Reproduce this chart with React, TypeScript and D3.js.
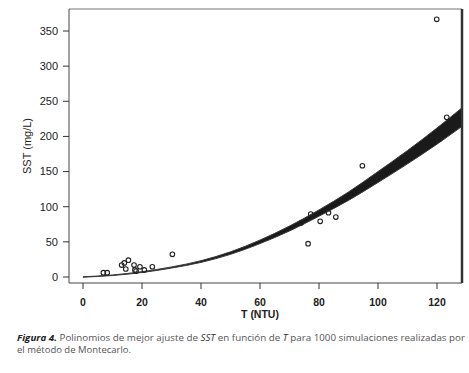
import React from "react";
import * as d3 from "d3";

// Observed data (T in NTU, SST in mg/L)
const obsT = [6.9, 8.2, 13.1, 14.0, 15.4, 14.5, 17.3, 17.6, 19.3, 18.0, 20.8, 23.5, 30.3, 73.9, 76.3, 77.2, 80.4, 83.2, 85.7, 94.7, 119.9, 120.7, 123.3];
const obsSST = [6.1, 6.1, 17, 20, 24, 11.4, 17, 10, 14.6, 8.5, 10, 14.6, 32.3, 76.8, 47.4, 89.6, 79.2, 91.5, 85.3, 158.3, 366.6, 196, 227.2];

// Envelope of the 1000 Monte Carlo polynomial fits
const bandT = [0, 10, 20, 30, 40, 50, 60, 70, 80, 90, 100, 110, 120, 130];
const bandLower = [-0.3, 2.1, 6.4, 12.7, 20.8, 32.2, 47.5, 65.5, 86.5, 109, 134.5, 161, 189, 219];
const bandUpper = [0.3, 2.9, 7.6, 14.3, 23.2, 35.8, 52.5, 72.5, 95.5, 121, 150, 180, 212, 246];

const xTicks = [0, 20, 40, 60, 80, 100, 120];
const yTicks = [0, 50, 100, 150, 200, 250, 300, 350];

const W = 469;
const H = 373;
const box = { left: 69, right: 462, top: 9, bottom: 283 };

export default function App() {
  const x = d3.scaleLinear().domain([0, 120]).range([83, 437]);
  const y = d3.scaleLinear().domain([0, 350]).range([277, 31]);

  const area = d3
    .area<number>()
    .x((_, i) => x(bandT[i]))
    .y0((_, i) => y(bandLower[i]))
    .y1((_, i) => y(bandUpper[i]))
    .curve(d3.curveMonotoneX);

  const axisFont = "'Liberation Sans', Arial, Helvetica, sans-serif";
  const capFont = "'Open Sans', 'Noto Sans', sans-serif";

  return (
    <svg
      width={W}
      height={H}
      style={{ position: "absolute", left: 0, top: 0, background: "#fff" }}
    >
      <defs>
        <clipPath id="plotclip">
          <rect x={box.left} y={box.top} width={box.right - box.left} height={box.bottom - box.top} />
        </clipPath>
      </defs>

      <g clipPath="url(#plotclip)">
        <path d={area(bandT) || ""} fill="#1a1a1a" stroke="#3a3a3a" strokeWidth={1} />
        {obsT.map((t, i) => (
          <circle
            key={i}
            cx={x(t)}
            cy={y(obsSST[i])}
            r={2.3}
            fill="none"
            stroke="#222"
            strokeWidth={1.1}
          />
        ))}
      </g>

      {/* box */}
      <line x1={box.left} x2={box.right} y1={box.top} y2={box.top} stroke="#777" strokeWidth={1} />
      <line x1={box.left} x2={box.right} y1={box.bottom} y2={box.bottom} stroke="#444" strokeWidth={1} />
      <line x1={box.left} x2={box.left} y1={box.top} y2={box.bottom} stroke="#444" strokeWidth={1} />
      <line x1={box.right} x2={box.right} y1={box.top} y2={box.bottom} stroke="#333" strokeWidth={2.5} />

      {/* y axis */}
      {yTicks.map((v) => (
        <g key={v}>
          <line x1={63} x2={box.left} y1={y(v)} y2={y(v)} stroke="#333" strokeWidth={1} />
          <text
            x={58}
            y={y(v)}
            dy="0.35em"
            textAnchor="end"
            fontFamily={axisFont}
            fontSize={11}
            fill="#222"
          >
            {v}
          </text>
        </g>
      ))}
      <text
        transform={`translate(31,146) rotate(-90)`}
        textAnchor="middle"
        fontFamily={axisFont}
        fontSize={11}
        fill="#222"
      >
        SST (mg/L)
      </text>

      {/* x axis */}
      {xTicks.map((v) => (
        <g key={v}>
          <line x1={x(v)} x2={x(v)} y1={box.bottom} y2={box.bottom + 6} stroke="#333" strokeWidth={1} />
          <text
            x={x(v)}
            y={306}
            textAnchor="middle"
            fontFamily={axisFont}
            fontSize={10.5}
            fontWeight="bold"
            fill="#222"
          >
            {v}
          </text>
        </g>
      ))}
      <text
        x={x(60)}
        y={318}
        textAnchor="middle"
        fontFamily={axisFont}
        fontSize={10.5}
        fontWeight="bold"
        fill="#222"
      >
        T (NTU)
      </text>

      {/* caption */}
      <text
        x={17}
        y={341}
        fontFamily={capFont}
        fontSize={9}
        fill="#555"
        textLength={448}
        lengthAdjust="spacingAndGlyphs"
      >
        <tspan fontWeight="bold" fontStyle="italic" fill="#222">Figura 4.</tspan>
        <tspan> Polinomios de mejor ajuste de </tspan>
        <tspan fontStyle="italic" fill="#333">SST</tspan>
        <tspan> en función de </tspan>
        <tspan fontStyle="italic" fill="#333">T</tspan>
        <tspan> para 1000 simulaciones realizadas por</tspan>
      </text>
      <text
        x={17}
        y={353}
        fontFamily={capFont}
        fontSize={9}
        fill="#555"
        textLength={114}
        lengthAdjust="spacingAndGlyphs"
      >
        el método de Montecarlo.
      </text>
    </svg>
  );
}
